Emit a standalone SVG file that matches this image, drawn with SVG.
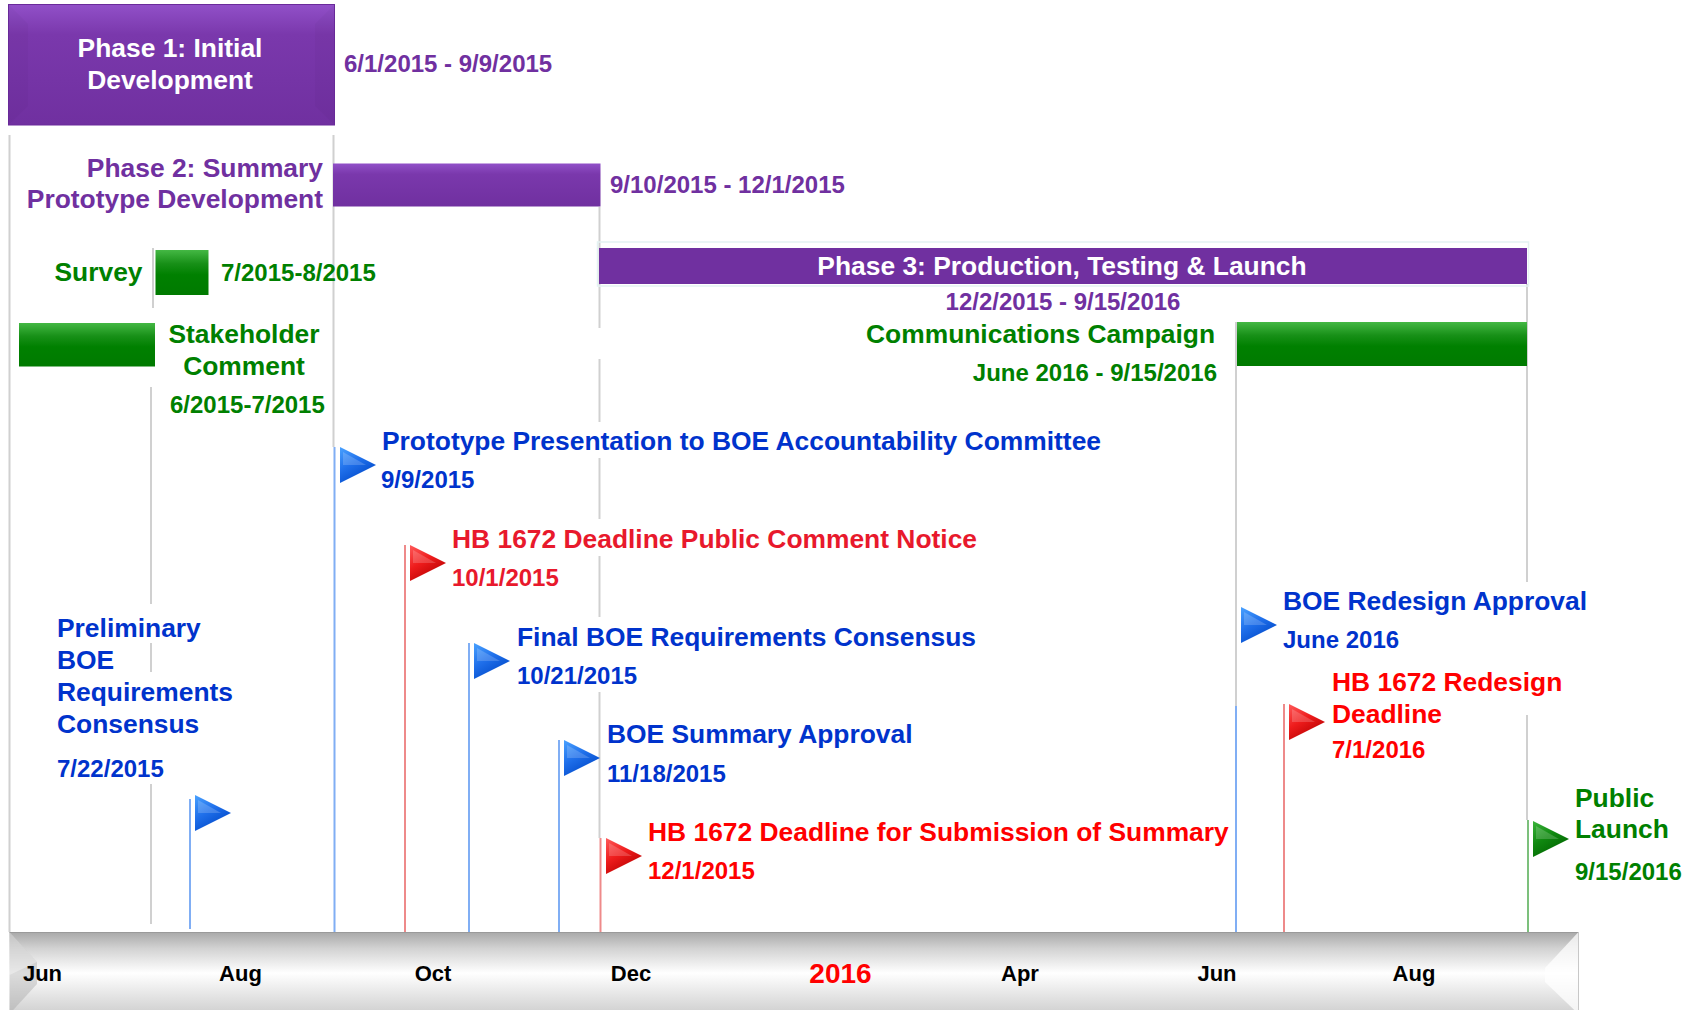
<svg xmlns="http://www.w3.org/2000/svg" xmlns:xlink="http://www.w3.org/1999/xlink" width="1698" height="1010" viewBox="0 0 1698 1010">
<style>
text{font-family:"Liberation Sans",Arial,Helvetica,sans-serif;font-weight:bold}
.f26{font-size:26.4px}
.f24{font-size:24px}
.f22{font-size:22px}
.pur{fill:#7030A0}
.grn{fill:#008000}
.blu{fill:#0033CC}
.red{fill:#FF0000}
.red2{fill:#E8192C}
.wht{fill:#FFFFFF}
.blk{fill:#000000}
.mid{text-anchor:middle}
.end{text-anchor:end}
.lg{stroke:#D0D0D0;stroke-width:2;fill:none}
.lb{stroke:#80AEF4;stroke-width:2;fill:none}
.lr{stroke:#EE8A8A;stroke-width:2;fill:none}
.lgn{stroke:#7CC07C;stroke-width:2;fill:none}
</style>
<defs>
<linearGradient id="gPur" x1="0" y1="0" x2="0" y2="1">
<stop offset="0" stop-color="#9150C8"/>
<stop offset="0.25" stop-color="#7A38AC"/>
<stop offset="1" stop-color="#7030A0"/>
</linearGradient>
<linearGradient id="gGrn" x1="0" y1="0" x2="0" y2="1">
<stop offset="0" stop-color="#44B844"/>
<stop offset="0.3" stop-color="#189018"/>
<stop offset="0.55" stop-color="#008000"/>
<stop offset="1" stop-color="#007A00"/>
</linearGradient>
<linearGradient id="gAxis" x1="0" y1="0" x2="0" y2="1">
<stop offset="0" stop-color="#A8A8A8"/>
<stop offset="0.2" stop-color="#D2D2D2"/>
<stop offset="0.5" stop-color="#FFFFFF"/>
<stop offset="0.8" stop-color="#E2E2E2"/>
<stop offset="1" stop-color="#CFCFCF"/>
</linearGradient>
<linearGradient id="gFB" x1="0" y1="0" x2="0.6" y2="1">
<stop offset="0" stop-color="#4AA2FF"/>
<stop offset="0.5" stop-color="#1F6FEA"/>
<stop offset="1" stop-color="#0048C8"/>
</linearGradient>
<linearGradient id="gFR" x1="0" y1="0" x2="0.6" y2="1">
<stop offset="0" stop-color="#FF5A5A"/>
<stop offset="0.5" stop-color="#EE1C1C"/>
<stop offset="1" stop-color="#B80000"/>
</linearGradient>
<linearGradient id="gFG" x1="0" y1="0" x2="0.6" y2="1">
<stop offset="0" stop-color="#3CB43C"/>
<stop offset="0.5" stop-color="#108810"/>
<stop offset="1" stop-color="#006400"/>
</linearGradient>
<polygon id="flag" points="0,0 36,18 0,36"/>
<polygon id="flagHi" points="3,5 26,18 3,18" fill="#FFFFFF" fill-opacity="0.18"/>
</defs>

<rect x="0" y="0" width="1698" height="1010" fill="#FFFFFF"/>

<g id="connectors">
<line class="lg" x1="9.5" y1="135" x2="9.5" y2="932"/>
<line class="lg" x1="153" y1="248" x2="153" y2="308"/>
<line class="lg" x1="151" y1="387" x2="151" y2="604"/>
<line class="lg" x1="151" y1="643" x2="151" y2="672"/>
<line class="lg" x1="151" y1="784" x2="151" y2="924"/>
<line class="lg" x1="333.5" y1="135" x2="333.5" y2="447"/>
<line class="lb" x1="334.5" y1="447" x2="334.5" y2="932"/>
<line class="lb" x1="190" y1="799" x2="190" y2="929"/>
<line class="lr" x1="405" y1="545" x2="405" y2="932"/>
<line class="lb" x1="469" y1="643" x2="469" y2="932"/>
<line class="lb" x1="559" y1="740" x2="559" y2="932"/>
<line class="lg" x1="599.5" y1="207" x2="599.5" y2="328"/>
<line class="lg" x1="599.5" y1="359" x2="599.5" y2="422"/>
<line class="lg" x1="599.5" y1="458" x2="599.5" y2="519"/>
<line class="lg" x1="599.5" y1="556" x2="599.5" y2="617"/>
<line class="lg" x1="599.5" y1="692" x2="599.5" y2="838"/>
<line class="lr" x1="600.5" y1="838" x2="600.5" y2="932"/>
<line class="lg" x1="1236" y1="322" x2="1236" y2="706"/>
<line class="lb" x1="1236" y1="706" x2="1236" y2="932"/>
<line class="lr" x1="1284" y1="704" x2="1284" y2="932"/>
<line class="lg" x1="1527" y1="284" x2="1527" y2="582"/>
<line class="lg" x1="1527" y1="715" x2="1527" y2="820"/>
<line class="lgn" x1="1528" y1="820" x2="1528" y2="932"/>
</g>

<g id="phase1">
<rect x="8.5" y="4.5" width="326" height="120.5" fill="url(#gPur)" stroke="#6A2A9A" stroke-width="1"/>
<polygon points="8.5,4.5 28,24 28,106 8.5,125" fill="#000000" fill-opacity="0.025"/>
<polygon points="334.5,4.5 315,24 315,106 334.5,125" fill="#000000" fill-opacity="0.025"/>
<text class="f26 wht mid" x="170" y="57">Phase 1: Initial</text>
<text class="f26 wht mid" x="170" y="89">Development</text>
<text class="f24 pur" x="344" y="72">6/1/2015 - 9/9/2015</text>
</g>

<g id="phase2">
<text class="f26 pur end" x="323" y="177">Phase 2: Summary</text>
<text class="f26 pur end" x="323" y="208">Prototype Development</text>
<rect x="333" y="163.5" width="267.5" height="43" fill="url(#gPur)"/>
<text class="f24 pur" x="610" y="193">9/10/2015 - 12/1/2015</text>
</g>

<g id="survey">
<text class="f26 grn end" x="142.5" y="281">Survey</text>
<rect x="155.5" y="250" width="53" height="45" fill="url(#gGrn)"/>
<text class="f24 grn" x="221" y="281">7/2015-8/2015</text>
</g>

<g id="stakeholder">
<rect x="19" y="323" width="136" height="43.5" fill="url(#gGrn)"/>
<text class="f26 grn mid" x="244" y="343">Stakeholder</text>
<text class="f26 grn mid" x="244" y="375">Comment</text>
<text class="f24 grn" x="170" y="413">6/2015-7/2015</text>
</g>

<g id="phase3">
<rect x="597.5" y="242" width="931" height="44" fill="none" stroke="#E4F2F2" stroke-width="1.5"/>
<rect x="599" y="248" width="928" height="36" fill="#7030A0"/>
<text class="f26 wht mid" x="1062" y="275">Phase 3: Production, Testing &amp; Launch</text>
<text class="f24 pur mid" x="1063" y="310">12/2/2015 - 9/15/2016</text>
</g>

<g id="comms">
<text class="f26 grn end" x="1215" y="343">Communications Campaign</text>
<text class="f24 grn end" x="1217" y="381">June 2016 - 9/15/2016</text>
<rect x="1237" y="322" width="290" height="44" fill="url(#gGrn)"/>
</g>

<g id="m-preliminary">
<text class="f26 blu" x="57" y="637">Preliminary</text>
<text class="f26 blu" x="57" y="669">BOE</text>
<text class="f26 blu" x="57" y="701">Requirements</text>
<text class="f26 blu" x="57" y="733">Consensus</text>
<text class="f24 blu" x="57" y="777">7/22/2015</text>
<use xlink:href="#flag" href="#flag" x="195" y="795" fill="url(#gFB)"/>
<use xlink:href="#flagHi" href="#flagHi" x="195" y="795"/>
</g>

<g id="m-prototype">
<use xlink:href="#flag" href="#flag" x="340" y="447" fill="url(#gFB)"/>
<use xlink:href="#flagHi" href="#flagHi" x="340" y="447"/>
<text class="f26 blu" x="382" y="450">Prototype Presentation to BOE Accountability Committee</text>
<text class="f24 blu" x="381" y="488">9/9/2015</text>
</g>

<g id="m-hb-notice">
<use xlink:href="#flag" href="#flag" x="410" y="545" fill="url(#gFR)"/>
<use xlink:href="#flagHi" href="#flagHi" x="410" y="545"/>
<text class="f26 red2" x="452" y="547.5">HB 1672 Deadline Public Comment Notice</text>
<text class="f24 red2" x="452" y="586">10/1/2015</text>
</g>

<g id="m-final-boe">
<use xlink:href="#flag" href="#flag" x="474" y="643" fill="url(#gFB)"/>
<use xlink:href="#flagHi" href="#flagHi" x="474" y="643"/>
<text class="f26 blu" x="517" y="646">Final BOE Requirements Consensus</text>
<text class="f24 blu" x="517" y="684">10/21/2015</text>
</g>

<g id="m-summary-approval">
<use xlink:href="#flag" href="#flag" x="564" y="740" fill="url(#gFB)"/>
<use xlink:href="#flagHi" href="#flagHi" x="564" y="740"/>
<text class="f26 blu" x="607" y="742.5">BOE Summary Approval</text>
<text class="f24 blu" x="607" y="781.5">11/18/2015</text>
</g>

<g id="m-hb-submission">
<use xlink:href="#flag" href="#flag" x="606" y="838" fill="url(#gFR)"/>
<use xlink:href="#flagHi" href="#flagHi" x="606" y="838"/>
<text class="f26 red" x="648" y="840.5">HB 1672 Deadline for Submission of Summary</text>
<text class="f24 red" x="648" y="879">12/1/2015</text>
</g>

<g id="m-redesign-approval">
<use xlink:href="#flag" href="#flag" x="1241" y="607" fill="url(#gFB)"/>
<use xlink:href="#flagHi" href="#flagHi" x="1241" y="607"/>
<text class="f26 blu" x="1283" y="610">BOE Redesign Approval</text>
<text class="f24 blu" x="1283" y="648">June 2016</text>
</g>

<g id="m-hb-redesign">
<use xlink:href="#flag" href="#flag" x="1289" y="704" fill="url(#gFR)"/>
<use xlink:href="#flagHi" href="#flagHi" x="1289" y="704"/>
<text class="f26 red" x="1332" y="691">HB 1672 Redesign</text>
<text class="f26 red" x="1332" y="723">Deadline</text>
<text class="f24 red" x="1332" y="758">7/1/2016</text>
</g>

<g id="m-launch">
<use xlink:href="#flag" href="#flag" x="1533" y="821" fill="url(#gFG)"/>
<use xlink:href="#flagHi" href="#flagHi" x="1533" y="821"/>
<text class="f26 grn" x="1575" y="807">Public</text>
<text class="f26 grn" x="1575" y="838">Launch</text>
<text class="f24 grn" x="1575" y="880">9/15/2016</text>
</g>

<g id="axis">
<rect x="9.5" y="932" width="1569" height="82" fill="url(#gAxis)"/>
<line x1="9.5" y1="932.5" x2="1578.5" y2="932.5" stroke="#9A9A9A" stroke-width="1"/>
<polygon points="9.5,932 37,962 37,984 9.5,1014" fill="#9A9A9A" fill-opacity="0.35"/>
<polygon points="9.5,932 37,962 9.5,975" fill="#FFFFFF" fill-opacity="0.35"/>
<polygon points="1578.5,932 1545,968 1545,982 1578.5,1014" fill="#FFFFFF" fill-opacity="0.75"/>
<line x1="1578.5" y1="932" x2="1578.5" y2="1010" stroke="#C8C8C8" stroke-width="1"/>
<text class="f22 blk mid" x="42.5" y="981">Jun</text>
<text class="f22 blk mid" x="240.5" y="981">Aug</text>
<text class="f22 blk mid" x="433" y="981">Oct</text>
<text class="f22 blk mid" x="631" y="981">Dec</text>
<text class="red mid" style="font-size:28px" x="840.5" y="983">2016</text>
<text class="f22 blk mid" x="1020" y="981">Apr</text>
<text class="f22 blk mid" x="1217" y="981">Jun</text>
<text class="f22 blk mid" x="1414" y="981">Aug</text>
</g>
</svg>
